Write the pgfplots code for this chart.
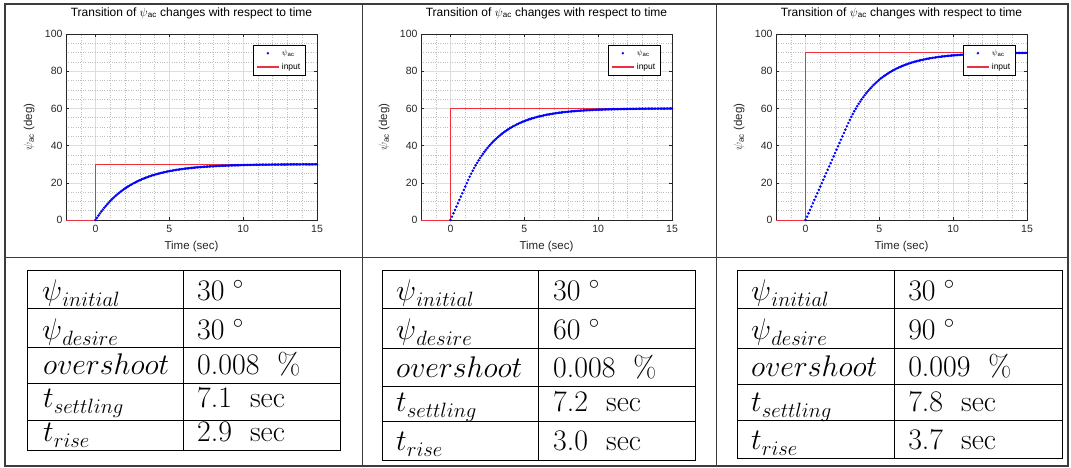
\documentclass[border=0pt]{standalone}
\usepackage{fontspec}
\usepackage{pgfplots}
\usepackage{pgfplotstable}
\pgfplotsset{compat=1.18}
\newfontfamily\arial{Liberation Sans}
\definecolor{mgray}{rgb}{0.15,0.15,0.15}
\definecolor{ingred}{RGB}{235,50,60}
\definecolor{frame}{RGB}{60,60,60}

\pgfplotstableread[row sep=\\]{
t y\\
0 0\\ 0.1 1.22\\ 0.2 2.40\\ 0.3 3.53\\ 0.4 4.61\\ 0.5 5.64\\ 0.6 6.64\\ 0.7 7.59\\ 0.8 8.50\\ 0.9 9.38\\
1.0 10.22\\ 1.1 11.03\\ 1.2 11.80\\ 1.3 12.55\\ 1.4 13.26\\ 1.5 13.94\\ 1.6 14.60\\ 1.7 15.23\\ 1.8 15.83\\ 1.9 16.41\\
2.0 16.96\\ 2.1 17.49\\ 2.2 18.00\\ 2.3 18.49\\ 2.4 18.96\\ 2.5 19.41\\ 2.6 19.85\\ 2.7 20.26\\ 2.8 20.66\\ 2.9 21.04\\
3.0 21.40\\ 3.1 21.76\\ 3.2 22.09\\ 3.3 22.41\\ 3.4 22.72\\ 3.5 23.02\\ 3.6 23.31\\ 3.7 23.58\\ 3.8 23.84\\ 3.9 24.09\\
4.0 24.33\\ 4.1 24.56\\ 4.2 24.79\\ 4.3 25.00\\ 4.4 25.20\\ 4.5 25.40\\ 4.6 25.59\\ 4.7 25.77\\ 4.8 25.94\\ 4.9 26.11\\
5.0 26.26\\ 5.1 26.42\\ 5.2 26.56\\ 5.3 26.70\\ 5.4 26.84\\ 5.5 26.97\\ 5.6 27.09\\ 5.7 27.21\\ 5.8 27.32\\ 5.9 27.43\\
6.0 27.54\\ 6.1 27.64\\ 6.2 27.73\\ 6.3 27.83\\ 6.4 27.92\\ 6.5 28.00\\ 6.6 28.08\\ 6.7 28.16\\ 6.8 28.24\\ 6.9 28.31\\
7.0 28.38\\ 7.1 28.44\\ 7.2 28.51\\ 7.3 28.57\\ 7.4 28.63\\ 7.5 28.68\\ 7.6 28.74\\ 7.7 28.79\\ 7.8 28.84\\ 7.9 28.88\\
8.0 28.93\\ 8.1 28.97\\ 8.2 29.02\\ 8.3 29.06\\ 8.4 29.09\\ 8.5 29.13\\ 8.6 29.17\\ 8.7 29.20\\ 8.8 29.23\\ 8.9 29.26\\
9.0 29.29\\ 9.1 29.32\\ 9.2 29.35\\ 9.3 29.38\\ 9.4 29.40\\ 9.5 29.43\\ 9.6 29.45\\ 9.7 29.47\\ 9.8 29.49\\ 9.9 29.52\\
10.0 29.53\\ 10.1 29.55\\ 10.2 29.57\\ 10.3 29.59\\ 10.4 29.61\\ 10.5 29.62\\ 10.6 29.64\\ 10.7 29.65\\ 10.8 29.67\\ 10.9 29.68\\
11.0 29.69\\ 11.1 29.71\\ 11.2 29.72\\ 11.3 29.73\\ 11.4 29.74\\ 11.5 29.75\\ 11.6 29.76\\ 11.7 29.77\\ 11.8 29.78\\ 11.9 29.79\\
12.0 29.80\\ 12.1 29.81\\ 12.2 29.81\\ 12.3 29.82\\ 12.4 29.83\\ 12.5 29.84\\ 12.6 29.84\\ 12.7 29.85\\ 12.8 29.86\\ 12.9 29.86\\
13.0 29.87\\ 13.1 29.87\\ 13.2 29.88\\ 13.3 29.88\\ 13.4 29.89\\ 13.5 29.89\\ 13.6 29.90\\ 13.7 29.90\\ 13.8 29.90\\ 13.9 29.91\\
14.0 29.91\\ 14.1 29.92\\ 14.2 29.92\\ 14.3 29.92\\ 14.4 29.93\\ 14.5 29.93\\ 14.6 29.93\\ 14.7 29.93\\ 14.8 29.94\\ 14.9 29.94\\ 15.0 29.94\\
}\dataA

\pgfplotstableread[row sep=\\]{
t y\\
0 0\\ 0.1 1.8\\ 0.2 3.6\\ 0.3 5.4\\ 0.4 7.2\\ 0.5 9.0\\ 0.6 10.8\\ 0.7 12.6\\ 0.8 14.4\\ 0.9 16.2\\
1.0 18.0\\ 1.1 19.8\\ 1.2 21.58\\ 1.3 23.29\\ 1.4 24.92\\ 1.5 26.48\\ 1.6 27.97\\ 1.7 29.39\\ 1.8 30.75\\ 1.9 32.05\\
2.0 33.29\\ 2.1 34.48\\ 2.2 35.61\\ 2.3 36.70\\ 2.4 37.73\\ 2.5 38.72\\ 2.6 39.67\\ 2.7 40.57\\ 2.8 41.44\\ 2.9 42.26\\
3.0 43.05\\ 3.1 43.80\\ 3.2 44.52\\ 3.3 45.21\\ 3.4 45.87\\ 3.5 46.49\\ 3.6 47.10\\ 3.7 47.67\\ 3.8 48.22\\ 3.9 48.74\\
4.0 49.24\\ 4.1 49.72\\ 4.2 50.18\\ 4.3 50.61\\ 4.4 51.03\\ 4.5 51.43\\ 4.6 51.81\\ 4.7 52.17\\ 4.8 52.52\\ 4.9 52.85\\
5.0 53.17\\ 5.1 53.47\\ 5.2 53.76\\ 5.3 54.04\\ 5.4 54.31\\ 5.5 54.56\\ 5.6 54.80\\ 5.7 55.03\\ 5.8 55.25\\ 5.9 55.46\\
6.0 55.67\\ 6.1 55.86\\ 6.2 56.04\\ 6.3 56.22\\ 6.4 56.39\\ 6.5 56.55\\ 6.6 56.70\\ 6.7 56.85\\ 6.8 56.99\\ 6.9 57.12\\
7.0 57.25\\ 7.1 57.37\\ 7.2 57.49\\ 7.3 57.60\\ 7.4 57.71\\ 7.5 57.81\\ 7.6 57.91\\ 7.7 58.00\\ 7.8 58.09\\ 7.9 58.17\\
8.0 58.25\\ 8.1 58.33\\ 8.2 58.41\\ 8.3 58.48\\ 8.4 58.54\\ 8.5 58.61\\ 8.6 58.67\\ 8.7 58.73\\ 8.8 58.79\\ 8.9 58.84\\
9.0 58.89\\ 9.1 58.94\\ 9.2 58.99\\ 9.3 59.03\\ 9.4 59.08\\ 9.5 59.12\\ 9.6 59.16\\ 9.7 59.19\\ 9.8 59.23\\ 9.9 59.26\\
10.0 59.30\\ 10.1 59.33\\ 10.2 59.36\\ 10.3 59.39\\ 10.4 59.41\\ 10.5 59.44\\ 10.6 59.46\\ 10.7 59.49\\ 10.8 59.51\\ 10.9 59.53\\
11.0 59.55\\ 11.1 59.57\\ 11.2 59.59\\ 11.3 59.61\\ 11.4 59.63\\ 11.5 59.64\\ 11.6 59.66\\ 11.7 59.68\\ 11.8 59.69\\ 11.9 59.70\\
12.0 59.72\\ 12.1 59.73\\ 12.2 59.74\\ 12.3 59.75\\ 12.4 59.76\\ 12.5 59.77\\ 12.6 59.78\\ 12.7 59.79\\ 12.8 59.80\\ 12.9 59.81\\
13.0 59.82\\ 13.1 59.83\\ 13.2 59.84\\ 13.3 59.84\\ 13.4 59.85\\ 13.5 59.86\\ 13.6 59.86\\ 13.7 59.87\\ 13.8 59.88\\ 13.9 59.88\\
14.0 59.89\\ 14.1 59.89\\ 14.2 59.90\\ 14.3 59.90\\ 14.4 59.91\\ 14.5 59.91\\ 14.6 59.92\\ 14.7 59.92\\ 14.8 59.92\\ 14.9 59.93\\ 15.0 59.93\\
}\dataB

\pgfplotstableread[row sep=\\]{
t y\\
0 0\\ 0.1 1.8\\ 0.2 3.6\\ 0.3 5.4\\ 0.4 7.2\\ 0.5 9.0\\ 0.6 10.8\\ 0.7 12.6\\ 0.8 14.4\\ 0.9 16.2\\
1.0 18.0\\ 1.1 19.8\\ 1.2 21.6\\ 1.3 23.4\\ 1.4 25.2\\ 1.5 27.0\\ 1.6 28.8\\ 1.7 30.6\\ 1.8 32.4\\ 1.9 34.2\\
2.0 36.0\\ 2.1 37.8\\ 2.2 39.6\\ 2.3 41.4\\ 2.4 43.2\\ 2.5 45.0\\ 2.6 46.8\\ 2.7 48.6\\ 2.8 50.40\\ 2.9 52.16\\
3.0 53.84\\ 3.1 55.45\\ 3.2 56.98\\ 3.3 58.45\\ 3.4 59.85\\ 3.5 61.19\\ 3.6 62.47\\ 3.7 63.70\\ 3.8 64.86\\ 3.9 65.98\\
4.0 67.05\\ 4.1 68.07\\ 4.2 69.04\\ 4.3 69.97\\ 4.4 70.86\\ 4.5 71.71\\ 4.6 72.53\\ 4.7 73.30\\ 4.8 74.05\\ 4.9 74.75\\
5.0 75.43\\ 5.1 76.08\\ 5.2 76.70\\ 5.3 77.29\\ 5.4 77.85\\ 5.5 78.39\\ 5.6 78.91\\ 5.7 79.40\\ 5.8 79.87\\ 5.9 80.32\\
6.0 80.75\\ 6.1 81.16\\ 6.2 81.56\\ 6.3 81.93\\ 6.4 82.29\\ 6.5 82.63\\ 6.6 82.96\\ 6.7 83.27\\ 6.8 83.57\\ 6.9 83.86\\
7.0 84.13\\ 7.1 84.39\\ 7.2 84.64\\ 7.3 84.88\\ 7.4 85.11\\ 7.5 85.32\\ 7.6 85.53\\ 7.7 85.73\\ 7.8 85.92\\ 7.9 86.10\\
8.0 86.27\\ 8.1 86.44\\ 8.2 86.60\\ 8.3 86.75\\ 8.4 86.89\\ 8.5 87.03\\ 8.6 87.16\\ 8.7 87.29\\ 8.8 87.41\\ 8.9 87.53\\
9.0 87.64\\ 9.1 87.74\\ 9.2 87.84\\ 9.3 87.94\\ 9.4 88.03\\ 9.5 88.12\\ 9.6 88.20\\ 9.7 88.28\\ 9.8 88.36\\ 9.9 88.43\\
10.0 88.50\\ 10.1 88.57\\ 10.2 88.63\\ 10.3 88.69\\ 10.4 88.75\\ 10.5 88.80\\ 10.6 88.86\\ 10.7 88.91\\ 10.8 88.96\\ 10.9 89.00\\
11.0 89.05\\ 11.1 89.09\\ 11.2 89.13\\ 11.3 89.17\\ 11.4 89.21\\ 11.5 89.24\\ 11.6 89.27\\ 11.7 89.31\\ 11.8 89.34\\ 11.9 89.37\\
12.0 89.40\\ 12.1 89.42\\ 12.2 89.45\\ 12.3 89.47\\ 12.4 89.50\\ 12.5 89.52\\ 12.6 89.54\\ 12.7 89.56\\ 12.8 89.58\\ 12.9 89.60\\
13.0 89.62\\ 13.1 89.63\\ 13.2 89.65\\ 13.3 89.67\\ 13.4 89.68\\ 13.5 89.69\\ 13.6 89.71\\ 13.7 89.72\\ 13.8 89.73\\ 13.9 89.75\\
14.0 89.76\\ 14.1 89.77\\ 14.2 89.78\\ 14.3 89.79\\ 14.4 89.80\\ 14.5 89.81\\ 14.6 89.81\\ 14.7 89.82\\ 14.8 89.83\\ 14.9 89.84\\ 15.0 89.85\\
}\dataC

\pgfplotsset{
  mstyle/.style={
    scale only axis, width=251pt, height=186pt,
    xmin=-2, xmax=15, ymin=0, ymax=100,
    xtick={0,5,10,15}, ytick={0,20,40,60,80,100},
    minor xtick={-2,-1,...,15}, minor ytick={0,5,...,100},
    grid=both,
    major grid style={color=black!13, line width=0.6pt},
    minor grid style={color=black!25, dotted, line width=0.5pt},
    axis line style={mgray, line width=0.6pt},
    tick style={mgray, line width=0.6pt},
    tick align=inside, major tick length=3pt, minor tick length=0pt,
    /pgf/number format/assume math mode=true,
    ticklabel style={font=\arial\fontsize{10.5}{12}\selectfont, text=mgray},
    xticklabel style={yshift=-1.5pt},
    xlabel={Time (sec)},
    ylabel={$\psi$\textsubscript{ac} (deg)},
    label style={font=\arial\fontsize{11.5}{13}\selectfont, text=mgray},
    xlabel style={at={(axis description cs:0.5,-0.145)}, anchor=center},
    ylabel style={at={(axis description cs:-0.147,0.5)}, anchor=center},
    title={Transition of $\psi$\textsubscript{ac} changes with respect to time},
    title style={font=\arial\fontsize{12}{14}\selectfont, at={(axis description cs:0.5,1)}, anchor=center, yshift=15pt},
    legend style={at={(1,1)}, anchor=north east, xshift=-12pt, yshift=-11pt,
      font=\arial\fontsize{8.5}{10}\selectfont, draw=black,
      inner sep=2.5pt, row sep=2.5pt, cells={anchor=west}, fill=white},
  },
}

\begin{document}
\begin{tikzpicture}[x=1pt,y=1pt]
\useasboundingbox (0,0) rectangle (1071,467);
% outer frame
\draw[frame, line width=1.3pt] (5,1) rectangle (1068,463);
\draw[frame, line width=1.3pt] (5,209.5) -- (1068,209.5);
\draw[frame, line width=1.3pt] (362.5,1) -- (362.5,463);
\draw[frame, line width=1.3pt] (716.5,1) -- (716.5,463);

% plot 1
\begin{axis}[mstyle, at={(66pt,247pt)}, anchor=south west]
\addplot[only marks, mark=*, mark size=1.05pt, blue, mark options={draw=blue, fill=blue},
  legend image code/.code={\draw[draw=blue, fill=blue] (0.4cm,0cm) circle (1.05pt);}] table[x=t,y=y] {\dataA};
\addlegendentry{$\psi$\textsubscript{ac}}
\addplot[draw=ingred, line width=0.8pt, mark=none,
  legend image code/.code={\pgfsetstrokecolor{ingred}\draw[draw=ingred, line width=1.2pt] (0cm,0cm) -- (0.8cm,0cm);}] coordinates {(-2,0) (0,0) (0,30) (15,30)};
\addlegendentry{input}
\end{axis}

% plot 2
\begin{axis}[mstyle, at={(421pt,247pt)}, anchor=south west]
\addplot[only marks, mark=*, mark size=1.05pt, blue, mark options={draw=blue, fill=blue},
  legend image code/.code={\draw[draw=blue, fill=blue] (0.4cm,0cm) circle (1.05pt);}] table[x=t,y=y] {\dataB};
\addlegendentry{$\psi$\textsubscript{ac}}
\addplot[draw=ingred, line width=0.8pt, mark=none,
  legend image code/.code={\pgfsetstrokecolor{ingred}\draw[draw=ingred, line width=1.2pt] (0cm,0cm) -- (0.8cm,0cm);}] coordinates {(-2,0) (0,0) (0,60) (15,60)};
\addlegendentry{input}
\end{axis}

% plot 3
\begin{axis}[mstyle, at={(776pt,247pt)}, anchor=south west]
\addplot[only marks, mark=*, mark size=1.05pt, blue, mark options={draw=blue, fill=blue},
  legend image code/.code={\draw[draw=blue, fill=blue] (0.4cm,0cm) circle (1.05pt);}] table[x=t,y=y] {\dataC};
\addlegendentry{$\psi$\textsubscript{ac}}
\addplot[draw=ingred, line width=0.8pt, mark=none,
  legend image code/.code={\pgfsetstrokecolor{ingred}\draw[draw=ingred, line width=1.2pt] (0cm,0cm) -- (0.8cm,0cm);}] coordinates {(-2,0) (0,0) (0,90) (15,90)};
\addlegendentry{input}
\end{axis}

% tables
\tikzset{tline/.style={black, line width=1pt},
  tcell/.style={anchor=base west, inner sep=0pt, font=\fontsize{24.88}{28}\selectfont, scale=1.2, transform shape}}
\newcommand{\dg}{\;^{\scriptscriptstyle\circ}}
\newcommand{\sbs}[1]{\raisebox{-5pt}{\fontsize{17.28}{18}\selectfont$#1$}}
% table 1
\draw[tline] (27,197) rectangle (340,17);
\draw[tline] (183,197) -- (183,17);
\foreach \yy in {159,120,84,47} \draw[tline] (27,\yy) -- (340,\yy);
\node[tcell] at (42,167) {$\psi$\sbs{initial}};
\node[tcell] at (42,128) {$\psi$\sbs{desire}};
\node[tcell] at (43,93) {$overshoot$};
\node[tcell] at (43,60) {$t$\sbs{settling}};
\node[tcell] at (43,26) {$t$\sbs{rise}};
\node[tcell] at (197,167) {$30\dg$};
\node[tcell] at (197,128) {$30\dg$};
\node[tcell] at (197,93) {0.008\hspace{0.6em}\%};
\node[tcell] at (197,60) {7.1\hspace{0.6em}sec};
\node[tcell] at (197,26) {2.9\hspace{0.6em}sec};
% table 2
\draw[tline] (382,197) rectangle (695,7);
\draw[tline] (538,197) -- (538,7);
\foreach \yy in {159,119,81,46} \draw[tline] (382,\yy) -- (695,\yy);
\node[tcell] at (396,167) {$\psi$\sbs{initial}};
\node[tcell] at (396,128) {$\psi$\sbs{desire}};
\node[tcell] at (396,90) {$overshoot$};
\node[tcell] at (396,56) {$t$\sbs{settling}};
\node[tcell] at (396,17) {$t$\sbs{rise}};
\node[tcell] at (553,167) {$30\dg$};
\node[tcell] at (553,128) {$60\dg$};
\node[tcell] at (553,90) {0.008\hspace{0.6em}\%};
\node[tcell] at (553,56) {7.2\hspace{0.6em}sec};
\node[tcell] at (553,17) {3.0\hspace{0.6em}sec};
% table 3
\draw[tline] (737,197) rectangle (1062,9);
\draw[tline] (894,197) -- (894,9);
\foreach \yy in {159,119,83,47} \draw[tline] (737,\yy) -- (1062,\yy);
\node[tcell] at (751,167) {$\psi$\sbs{initial}};
\node[tcell] at (751,128) {$\psi$\sbs{desire}};
\node[tcell] at (751,91) {$overshoot$};
\node[tcell] at (751,56) {$t$\sbs{settling}};
\node[tcell] at (751,18) {$t$\sbs{rise}};
\node[tcell] at (908,167) {$30\dg$};
\node[tcell] at (908,128) {$90\dg$};
\node[tcell] at (908,91) {0.009\hspace{0.6em}\%};
\node[tcell] at (908,56) {7.8\hspace{0.6em}sec};
\node[tcell] at (908,18) {3.7\hspace{0.6em}sec};
\end{tikzpicture}
\end{document}
